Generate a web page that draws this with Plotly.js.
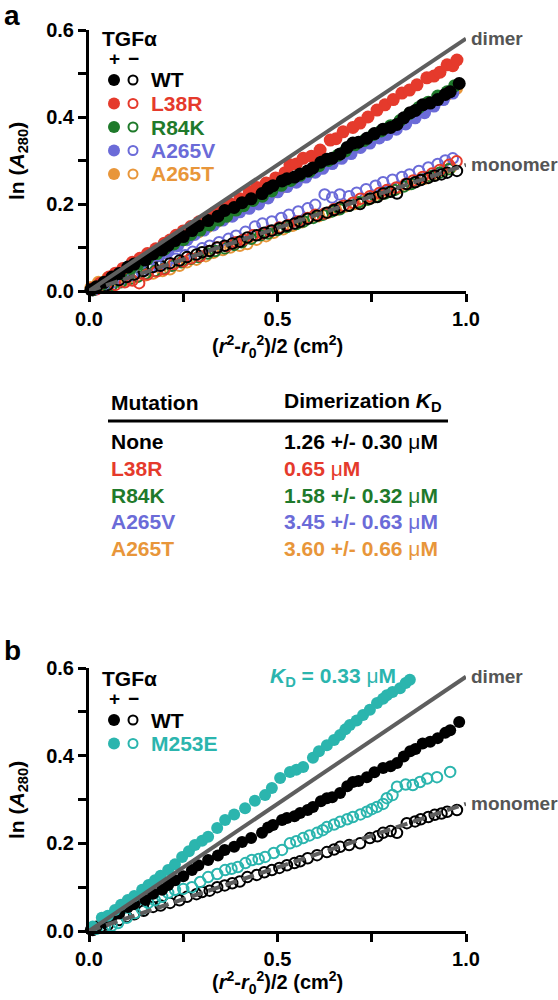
<!DOCTYPE html>
<html>
<head>
<meta charset="utf-8">
<script src="https://cdn.plot.ly/plotly-3.0.1.min.js"></script>
<style>html,body{margin:0;padding:0;background:#fff;}#chart{width:558px;height:1000px;}</style>
</head>
<body>
<div id="chart"></div>
<script>
// ---------- data ----------
// WT (used in both panels)
const wtPlusX = [0.005,0.02,0.04,0.061,0.08,0.103,0.12,0.149,0.17,0.194,0.21,0.228,0.25,0.273,0.29,0.316,0.342,0.36,0.385,0.406,0.43,0.459,0.475,0.488,0.512,0.525,0.545,0.56,0.58,0.594,0.615,0.631,0.645,0.666,0.685,0.70,0.715,0.737,0.757,0.78,0.80,0.817,0.835,0.852,0.866,0.885,0.905,0.925,0.945,0.958,0.982];
const wtPlusY = [0.003,0.01,0.02,0.032,0.04,0.055,0.062,0.071,0.085,0.094,0.105,0.116,0.125,0.139,0.15,0.162,0.172,0.185,0.192,0.203,0.212,0.224,0.236,0.242,0.253,0.258,0.262,0.269,0.276,0.283,0.296,0.303,0.305,0.315,0.33,0.34,0.342,0.351,0.362,0.372,0.376,0.383,0.398,0.41,0.415,0.428,0.432,0.44,0.452,0.458,0.477];
const wtMinusX = [0.01,0.03,0.05,0.08,0.10,0.12,0.145,0.17,0.19,0.215,0.24,0.26,0.285,0.30,0.32,0.34,0.36,0.38,0.40,0.42,0.445,0.465,0.485,0.505,0.525,0.545,0.56,0.58,0.605,0.631,0.65,0.666,0.69,0.719,0.745,0.765,0.78,0.80,0.817,0.843,0.865,0.88,0.90,0.917,0.935,0.95,0.976];
const wtMinusY = [0.002,0.008,0.014,0.025,0.032,0.038,0.046,0.055,0.058,0.064,0.07,0.078,0.084,0.089,0.092,0.10,0.104,0.109,0.113,0.123,0.128,0.134,0.139,0.144,0.15,0.155,0.159,0.166,0.173,0.18,0.186,0.192,0.196,0.20,0.212,0.216,0.224,0.228,0.224,0.246,0.25,0.255,0.26,0.265,0.268,0.272,0.276];

// Panel a mutants, + TGFα (filled)
const l38rPlusX = [0.01,0.03,0.053,0.07,0.09,0.115,0.135,0.155,0.177,0.20,0.215,0.231,0.25,0.27,0.292,0.31,0.33,0.353,0.375,0.40,0.425,0.445,0.47,0.495,0.52,0.533,0.55,0.568,0.59,0.613,0.64,0.655,0.674,0.70,0.719,0.74,0.764,0.785,0.807,0.83,0.85,0.87,0.896,0.915,0.931,0.95,0.965,0.976];
const l38rPlusY = [0.006,0.018,0.032,0.041,0.052,0.066,0.075,0.086,0.097,0.11,0.117,0.128,0.138,0.148,0.159,0.166,0.178,0.19,0.20,0.212,0.228,0.238,0.248,0.26,0.272,0.29,0.292,0.305,0.31,0.324,0.347,0.35,0.366,0.376,0.386,0.40,0.416,0.428,0.44,0.455,0.462,0.474,0.49,0.494,0.503,0.52,0.518,0.531];
const r84kPlusX = [0.01,0.035,0.06,0.085,0.11,0.13,0.155,0.18,0.20,0.225,0.25,0.27,0.295,0.32,0.345,0.365,0.39,0.41,0.435,0.46,0.485,0.51,0.535,0.56,0.585,0.61,0.635,0.66,0.68,0.705,0.73,0.755,0.775,0.80,0.825,0.85,0.875,0.90,0.925,0.95,0.97];
const r84kPlusY = [0.004,0.016,0.028,0.04,0.052,0.062,0.074,0.086,0.096,0.108,0.118,0.13,0.14,0.152,0.163,0.172,0.186,0.196,0.208,0.218,0.23,0.243,0.254,0.266,0.275,0.288,0.30,0.312,0.322,0.336,0.346,0.36,0.368,0.38,0.392,0.408,0.422,0.434,0.448,0.458,0.472];
const a265vPlusX = [0.015,0.04,0.065,0.09,0.115,0.14,0.16,0.185,0.21,0.235,0.26,0.28,0.305,0.33,0.355,0.38,0.40,0.425,0.45,0.475,0.50,0.525,0.55,0.575,0.60,0.62,0.645,0.67,0.695,0.72,0.745,0.77,0.79,0.815,0.84,0.865,0.89,0.915,0.94,0.965];
const a265vPlusY = [0.005,0.017,0.03,0.042,0.054,0.066,0.075,0.082,0.092,0.104,0.118,0.13,0.14,0.152,0.163,0.172,0.182,0.19,0.20,0.214,0.228,0.24,0.25,0.262,0.273,0.282,0.293,0.305,0.316,0.33,0.34,0.352,0.36,0.372,0.384,0.398,0.41,0.425,0.44,0.455];
const a265tPlusX = [0.005,0.025,0.05,0.075,0.10,0.12,0.145,0.17,0.195,0.22,0.245,0.265,0.29,0.315,0.34,0.36,0.385,0.41,0.435,0.46,0.485,0.51,0.535,0.56,0.58,0.605,0.63,0.655,0.68,0.705,0.73,0.75,0.775,0.80,0.825,0.85,0.875,0.90,0.925,0.95,0.975];
const a265tPlusY = [0.008,0.02,0.03,0.04,0.05,0.058,0.07,0.082,0.093,0.104,0.116,0.125,0.136,0.148,0.16,0.168,0.18,0.192,0.204,0.214,0.226,0.238,0.25,0.262,0.27,0.283,0.295,0.306,0.318,0.33,0.342,0.35,0.363,0.375,0.386,0.40,0.413,0.426,0.44,0.452,0.466];

// Panel a mutants, − TGFα (open)
const l38rMinusX = [0.02,0.045,0.07,0.095,0.115,0.133,0.155,0.18,0.20,0.225,0.25,0.27,0.295,0.32,0.34,0.365,0.39,0.41,0.435,0.46,0.48,0.505,0.53,0.555,0.58,0.60,0.625,0.65,0.675,0.70,0.72,0.745,0.77,0.79,0.815,0.84,0.86,0.885,0.91,0.93,0.955,0.975];
const l38rMinusY = [0.004,0.01,0.014,0.02,0.024,0.018,0.038,0.045,0.05,0.062,0.068,0.075,0.08,0.092,0.10,0.103,0.112,0.118,0.128,0.132,0.138,0.146,0.152,0.16,0.168,0.175,0.178,0.188,0.196,0.203,0.212,0.218,0.225,0.232,0.238,0.246,0.254,0.262,0.27,0.278,0.29,0.298];
const r84kMinusX = [0.015,0.04,0.06,0.085,0.11,0.13,0.15,0.175,0.20,0.22,0.245,0.27,0.29,0.315,0.335,0.36,0.385,0.405,0.43,0.455,0.475,0.50,0.525,0.55,0.57,0.595,0.62,0.645,0.665,0.69,0.715,0.74,0.76,0.785,0.81,0.835,0.855,0.88,0.905,0.93,0.955];
const r84kMinusY = [0.003,0.008,0.012,0.02,0.028,0.033,0.04,0.046,0.052,0.058,0.066,0.074,0.078,0.086,0.092,0.098,0.106,0.112,0.12,0.128,0.132,0.14,0.147,0.154,0.16,0.168,0.175,0.183,0.188,0.196,0.204,0.21,0.216,0.224,0.232,0.24,0.246,0.256,0.264,0.272,0.28];
const a265vMinusX = [0.02,0.045,0.065,0.09,0.115,0.14,0.16,0.185,0.205,0.23,0.255,0.275,0.30,0.32,0.345,0.37,0.39,0.415,0.44,0.46,0.485,0.51,0.53,0.555,0.58,0.60,0.625,0.645,0.665,0.69,0.71,0.735,0.76,0.78,0.805,0.83,0.85,0.875,0.90,0.925,0.945,0.965];
const a265vMinusY = [0.006,0.014,0.02,0.028,0.036,0.044,0.05,0.058,0.064,0.074,0.082,0.09,0.098,0.104,0.112,0.12,0.127,0.136,0.148,0.155,0.16,0.168,0.175,0.183,0.19,0.198,0.222,0.215,0.222,0.218,0.226,0.234,0.242,0.25,0.256,0.262,0.268,0.276,0.284,0.292,0.30,0.305];
const a265tMinusX = [0.01,0.035,0.055,0.08,0.10,0.125,0.15,0.17,0.195,0.215,0.24,0.26,0.285,0.31,0.33,0.355,0.375,0.40,0.42,0.445,0.47,0.49,0.515,0.54,0.565,0.585,0.61,0.635,0.655,0.68,0.705,0.725,0.75,0.775,0.795,0.82,0.845,0.87,0.89,0.915,0.94,0.96];
const a265tMinusY = [0.003,0.01,0.016,0.022,0.026,0.032,0.036,0.04,0.046,0.05,0.058,0.066,0.072,0.08,0.088,0.094,0.10,0.104,0.108,0.118,0.126,0.134,0.142,0.15,0.158,0.168,0.172,0.18,0.186,0.194,0.20,0.206,0.214,0.222,0.228,0.236,0.244,0.252,0.258,0.266,0.276,0.284];

// Panel b: M253E
const m253ePlusX = [0.01,0.034,0.05,0.069,0.085,0.103,0.12,0.141,0.158,0.175,0.19,0.21,0.228,0.247,0.265,0.281,0.30,0.316,0.34,0.361,0.385,0.414,0.44,0.467,0.485,0.507,0.533,0.55,0.568,0.594,0.61,0.631,0.65,0.666,0.68,0.692,0.71,0.727,0.745,0.764,0.78,0.79,0.805,0.825,0.84,0.851];
const m253ePlusY = [0.01,0.03,0.035,0.048,0.06,0.071,0.08,0.094,0.105,0.116,0.126,0.139,0.152,0.169,0.182,0.196,0.206,0.215,0.235,0.253,0.266,0.28,0.297,0.31,0.326,0.349,0.363,0.368,0.374,0.395,0.41,0.424,0.436,0.447,0.46,0.47,0.48,0.493,0.505,0.52,0.53,0.538,0.545,0.554,0.566,0.573];
const m253eMinusX = [0.02,0.042,0.06,0.077,0.10,0.122,0.14,0.157,0.175,0.194,0.21,0.228,0.25,0.273,0.295,0.316,0.34,0.361,0.378,0.395,0.415,0.432,0.45,0.467,0.49,0.512,0.533,0.55,0.568,0.585,0.605,0.62,0.631,0.65,0.666,0.685,0.70,0.72,0.737,0.75,0.764,0.78,0.79,0.805,0.817,0.84,0.859,0.878,0.897,0.923,0.958];
const m253eMinusY = [0.005,0.009,0.012,0.018,0.03,0.041,0.05,0.064,0.07,0.078,0.087,0.094,0.096,0.10,0.112,0.123,0.13,0.139,0.142,0.146,0.155,0.162,0.164,0.169,0.178,0.185,0.20,0.205,0.212,0.218,0.224,0.23,0.237,0.243,0.249,0.255,0.26,0.266,0.272,0.278,0.283,0.29,0.303,0.31,0.329,0.334,0.333,0.34,0.348,0.351,0.363];

// Reference lines
const refX = [0, 1.0];
const dimerY = [0, 0.58];
const monomerY = [0, 0.29];

// Table
const mutations = ['None', 'L38R', 'R84K', 'A265V', 'A265T'];
const kdTexts = ['1.26 +/- 0.30 ', '0.65 ', '1.58 +/- 0.32 ', '3.45 +/- 0.63 ', '3.60 +/- 0.66 '];
const legendNamesA = ['WT', 'L38R', 'R84K', 'A265V', 'A265T'];
const legendNamesB = ['WT', 'M253E'];
const kdB = '0.33';

// ---------- styles ----------
const C = {wt:'#000000', l38r:'#e53a2c', r84k:'#1f7a2b', a265v:'#6b6bd8', a265t:'#e8963a', m253e:'#2bb5ae', line:'#5e5e5e', label:'#555555'};
const FONT = 'Liberation Sans, Arial, Helvetica, sans-serif';
const W = 558, H = 1000;
const px = x => x / W;
const py = y => 1 - y / H;

function filled(x, y, color, xa, ya, size) {
  return {x, y, xaxis: xa, yaxis: ya, type: 'scatter', mode: 'markers', cliponaxis: false, hoverinfo: 'skip',
    marker: {symbol: 'circle', size: size, color: color, line: {width: 0}}};
}
function open(x, y, color, xa, ya) {
  return {x, y, xaxis: xa, yaxis: ya, type: 'scatter', mode: 'markers', cliponaxis: false, hoverinfo: 'skip',
    marker: {symbol: 'circle-open', size: 10.5, color: color, line: {width: 2, color: color}}};
}
function refLine(y, dash, xa, ya) {
  return {x: refX, y: y, xaxis: xa, yaxis: ya, type: 'scatter', mode: 'lines', cliponaxis: false, hoverinfo: 'skip',
    line: {color: C.line, width: 4, dash: dash}};
}

const traces = [
  // panel a, open
  open(a265tMinusX, a265tMinusY, C.a265t, 'x', 'y'),
  open(a265vMinusX, a265vMinusY, C.a265v, 'x', 'y'),
  open(r84kMinusX, r84kMinusY, C.r84k, 'x', 'y'),
  open(l38rMinusX, l38rMinusY, C.l38r, 'x', 'y'),
  open(wtMinusX, wtMinusY, C.wt, 'x', 'y'),
  // panel a, filled
  filled(a265tPlusX, a265tPlusY, C.a265t, 'x', 'y', 13),
  filled(a265vPlusX, a265vPlusY, C.a265v, 'x', 'y', 13),
  filled(r84kPlusX, r84kPlusY, C.r84k, 'x', 'y', 13),
  filled(l38rPlusX, l38rPlusY, C.l38r, 'x', 'y', 13),
  filled(wtPlusX, wtPlusY, C.wt, 'x', 'y', 13),
  refLine(dimerY, 'solid', 'x', 'y'),
  refLine(monomerY, '12px,6px', 'x', 'y'),
  // panel b
  open(wtMinusX, wtMinusY, C.wt, 'x2', 'y2'),
  open(m253eMinusX, m253eMinusY, C.m253e, 'x2', 'y2'),
  filled(wtPlusX, wtPlusY, C.wt, 'x2', 'y2', 12),
  filled(m253ePlusX, m253ePlusY, C.m253e, 'x2', 'y2', 12),
  refLine(dimerY, 'solid', 'x2', 'y2'),
  refLine(monomerY, '12px,6px', 'x2', 'y2')
];

const tickFont = {family: FONT, size: 20, color: '#000', weight: 'bold'};
function xAxis(anchor) {
  return {domain: [89/W, 466/W], range: [0, 1], anchor: anchor, showgrid: false, zeroline: false,
    showline: true, linewidth: 3, linecolor: '#000', ticks: 'outside', ticklen: 8, tickwidth: 3, tickcolor: '#000',
    tickvals: [0, 0.25, 0.5, 0.75, 1.0], ticktext: ['0.0', '', '0.5', '', '1.0'], tickfont: tickFont, fixedrange: true};
}
function yAxis(anchor, top, bottom) {
  return {domain: [1 - bottom/H, 1 - top/H], range: [0, 0.6], anchor: anchor, showgrid: false, zeroline: false,
    showline: true, linewidth: 3, linecolor: '#000', ticks: 'outside', ticklen: 8, tickwidth: 3, tickcolor: '#000',
    tickvals: [0, 0.1, 0.2, 0.3, 0.4, 0.5, 0.6], ticktext: ['0.0', '', '0.2', '', '0.4', '', '0.6'], tickfont: tickFont, fixedrange: true};
}

const ann = [];
const shapes = [];
function text(t, x, y, opts) {
  ann.push(Object.assign({text: t, x: px(x), y: py(y), xref: 'paper', yref: 'paper', showarrow: false,
    xanchor: 'left', yanchor: 'middle', font: {family: FONT, size: 21, color: '#000', weight: 'bold'}}, opts || {}));
}
function font(size, color, weight) { return {family: FONT, size: size, color: color, weight: weight || 'bold'}; }

// panel letters
text('a', 2, 0, {yanchor: 'top', yshift: 2, font: font(28, '#000')});
text('b', 2, 650, {font: font(28, '#000')});

// axis titles
const yTitle = 'ln (<i>A</i><sub>280</sub>)';
const xTitle = '(<i>r</i><sup>2</sup>-<i>r</i><sub>0</sub><sup>2</sup>)/2 (cm<sup>2</sup>)';
text(yTitle, 18, 161, {xanchor: 'center', textangle: -90, font: font(21, '#000')});
text(yTitle, 18, 800, {xanchor: 'center', textangle: -90, font: font(21, '#000')});
text(xTitle, 277, 346, {xanchor: 'center', font: font(20, '#000')});
text(xTitle, 277, 982, {xanchor: 'center', font: font(20, '#000')});

// line labels
function refLabels(xa, ya) {
  ann.push({text: 'dimer', x: refX[1], y: dimerY[1], xref: xa, yref: ya, showarrow: false, xanchor: 'left', yanchor: 'middle', xshift: 3,
    font: font(19, C.label)});
  ann.push({text: 'monomer', x: refX[1], y: monomerY[1], xref: xa, yref: ya, showarrow: false, xanchor: 'left', yanchor: 'middle', xshift: 3,
    font: font(19, C.label)});
}
refLabels('x', 'y');
refLabels('x2', 'y2');

// legends
function circle(cx, cy, d, color, isOpen) {
  shapes.push({type: 'circle', xref: 'paper', yref: 'paper', xsizemode: 'pixel', ysizemode: 'pixel',
    xanchor: px(cx), yanchor: py(cy), x0: -d/2, x1: d/2, y0: -d/2, y1: d/2,
    fillcolor: isOpen ? 'rgba(0,0,0,0)' : color, line: {color: color, width: isOpen ? 2 : 0}});
}
function legend(topY, names, colors) {
  text('TGFα', 100, topY, {font: font(21, '#000')});
  text('+', 114, topY + 20, {xanchor: 'center', font: font(19, '#000')});
  text('−', 133, topY + 20, {xanchor: 'center', font: font(19, '#000')});
  names.forEach((n, i) => {
    const cy = topY + 42 + i * 23.5;
    circle(114, cy, 12, colors[i], false);
    circle(133, cy, 9, colors[i], true);
    text(n, 149, cy, {font: font(21, colors[i])});
  });
}
legend(38, legendNamesA, [C.wt, C.l38r, C.r84k, C.a265v, C.a265t]);
legend(678, legendNamesB, [C.wt, C.m253e]);

// KD annotation panel b
text('<i>K</i><sub>D</sub> = ' + kdB + ' <span style="font-weight:normal">μ</span>M', 268, 677, {font: font(21, C.m253e)});

// table
text('Mutation', 109, 402, {font: font(21, '#000')});
text('Dimerization <i>K</i><sub>D</sub>', 282, 402, {font: font(21, '#000')});
shapes.push({type: 'line', xref: 'paper', yref: 'paper', x0: px(108), x1: px(448), y0: py(421), y1: py(421), line: {color: '#000', width: 3}});
const rowColors = [C.wt, C.l38r, C.r84k, C.a265v, C.a265t];
mutations.forEach((m, i) => {
  const cy = 442 + i * 26.6;
  text(m, 109, cy, {font: font(21, rowColors[i])});
  text(kdTexts[i] + '<span style="font-weight:normal">μ</span>M', 282, cy, {font: font(21, rowColors[i])});
});

const layout = {
  width: W, height: H, margin: {l: 0, r: 0, t: 0, b: 0}, paper_bgcolor: '#fff', plot_bgcolor: 'rgba(0,0,0,0)',
  showlegend: false, font: {family: FONT},
  xaxis: xAxis('y'), yaxis: yAxis('x', 30, 291),
  xaxis2: xAxis('y2'), yaxis2: yAxis('x2', 668, 931),
  annotations: ann, shapes: shapes
};

Plotly.newPlot('chart', traces, layout, {displayModeBar: false, staticPlot: true});
</script>
</body>
</html>
